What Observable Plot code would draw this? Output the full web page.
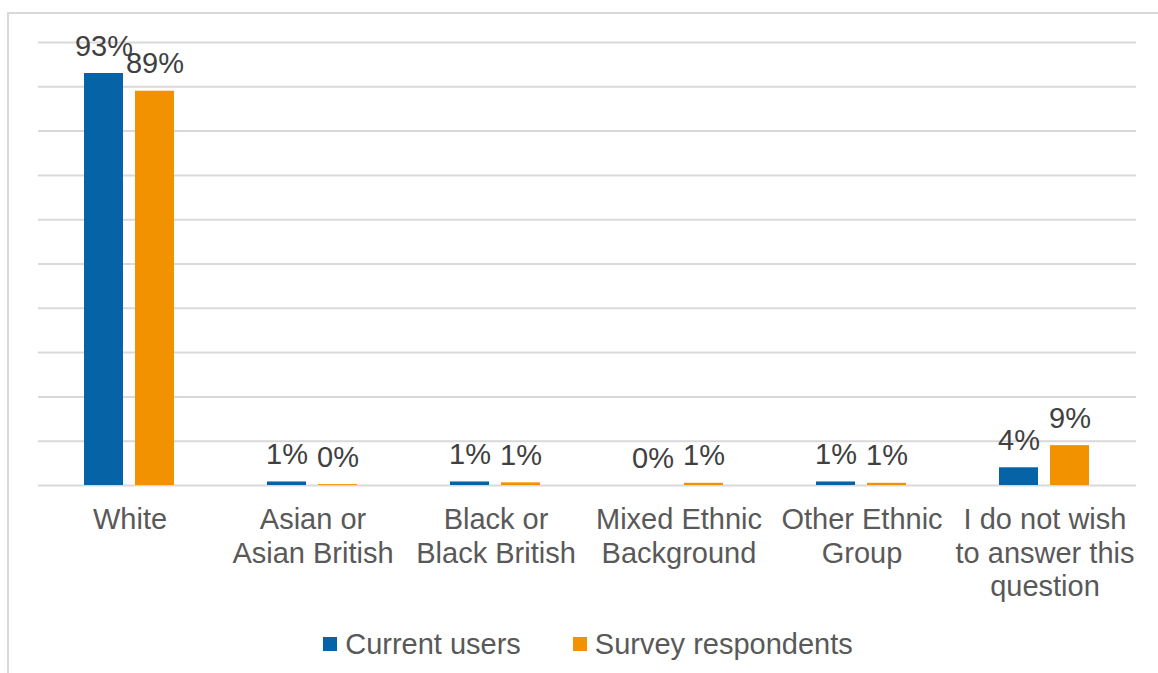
<!DOCTYPE html>
<html>
<head>
<meta charset="utf-8">
<script src="https://cdn.jsdelivr.net/npm/d3@7"></script>
<script src="https://cdn.jsdelivr.net/npm/@observablehq/plot@0.6"></script>
<style>
  html, body { margin: 0; padding: 0; background: #fff; }
  body { width: 1158px; height: 673px; overflow: hidden; position: relative; font-family: "Liberation Sans", Arial, sans-serif; }
  #frame { position: absolute; left: 7px; top: 12px; width: 1300px; height: 800px; border: 2px solid #d9d9d9; pointer-events: none; box-sizing: border-box; }
  #legend { display: flex; justify-content: center; align-items: center; gap: 52px; height: 32px; padding-top: 8px; padding-left: 18px; font-size: 29px; color: #595959; }
  #legend .item { display: flex; align-items: center; }
  #legend .sw { width: 14px; height: 14px; margin-right: 8px; display: inline-block; }
</style>
</head>
<body>
<div id="frame"></div>
<div id="chart"></div>
<div id="legend"></div>
<script>
const categories = ["White", "Asian or Asian British", "Black or Black British", "Mixed Ethnic Background", "Other Ethnic Group", "I do not wish to answer this question"];
const categoryLabels = ["White", "Asian or\nAsian British", "Black or\nBlack British", "Mixed Ethnic\nBackground", "Other Ethnic\nGroup", "I do not wish\nto answer this\nquestion"];
const series = ["Current users", "Survey respondents"];
const colors = ["#0563A6", "#F39200"];
const currentUsers = [93, 0.8, 0.8, 0, 0.8, 4];
const surveyRespondents = [89, 0.2, 0.6, 0.5, 0.5, 9];
const yTicks = [0, 10, 20, 30, 40, 50, 60, 70, 80, 90, 100];

const rows = [];
categories.forEach((c, i) => {
  rows.push({category: c, series: series[0], value: currentUsers[i]});
  rows.push({category: c, series: series[1], value: surveyRespondents[i]});
});
const labelOf = new Map(categories.map((c, i) => [c, categoryLabels[i]]));

const chart = Plot.plot({
  width: 1158,
  height: 620,
  marginLeft: 36,
  marginRight: 20,
  marginTop: 42,
  marginBottom: 135,
  style: {fontFamily: "'Liberation Sans', Arial, sans-serif", background: "transparent"},
  fx: {domain: categories, paddingInner: 0, paddingOuter: 0, label: null},
  x: {domain: series, paddingInner: 0.23, paddingOuter: 0.88, axis: null},
  y: {domain: [0, 100], axis: null},
  color: {domain: series, range: colors},
  marks: [
    Plot.gridY(yTicks, {stroke: "#d9d9d9", strokeOpacity: 1, strokeWidth: 2}),
    Plot.barY(rows, {fx: "category", x: "series", y: "value", fill: "series"}),
    Plot.text(rows, {fx: "category", x: "series", y: "value", text: d => Math.round(d.value) + "%", lineAnchor: "bottom", dy: -18, fontSize: 29, fill: "#404040"}),
    Plot.axisFx({anchor: "bottom", tickFormat: d => labelOf.get(d), fontSize: 29, lineHeight: 1.17, tickSize: 0, tickPadding: 19, fill: "#595959", label: null})
  ]
});
document.getElementById("chart").appendChild(chart);

const legend = document.getElementById("legend");
series.forEach((s, i) => {
  const item = document.createElement("div");
  item.className = "item";
  const sw = document.createElement("span");
  sw.className = "sw";
  sw.style.background = colors[i];
  item.appendChild(sw);
  item.appendChild(document.createTextNode(s));
  legend.appendChild(item);
});
</script>
</body>
</html>
